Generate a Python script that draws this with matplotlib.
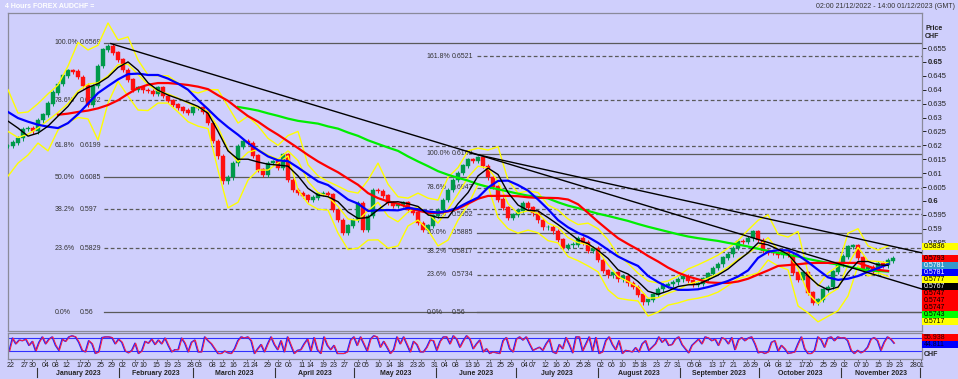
import numpy as np
import pandas as pd
import matplotlib
matplotlib.use("Agg")
import matplotlib.pyplot as plt
import matplotlib.dates as mdates
from matplotlib import transforms
from matplotlib.patches import Rectangle

# --- data --------------------------------------------------------------------
x_start = "2022-12-21 02:00"
x_end = "2023-12-01 14:00"

# candle closes, one every ~45h from 21 Dec 2022 to 20 Nov 2023
close = [
    0.6197, 0.6210, 0.6225, 0.6258, 0.6262, 0.6250, 0.6290, 0.6310, 0.6350, 0.6390,
    0.6420, 0.6450, 0.6468, 0.6465, 0.6445, 0.6415, 0.6345, 0.6413, 0.6485, 0.6543,
    0.6557, 0.6532, 0.6507, 0.6470, 0.6435, 0.6400, 0.6406, 0.6398, 0.6395, 0.6386,
    0.6406, 0.6377, 0.6360, 0.6345, 0.6335, 0.6325, 0.6316, 0.6335, 0.6335, 0.6320,
    0.6280, 0.6215, 0.6160, 0.6070, 0.6085, 0.6135, 0.6195, 0.6215, 0.6208, 0.6162,
    0.6111, 0.6095, 0.6136, 0.6140, 0.6120, 0.6165, 0.6075, 0.6039, 0.6028, 0.6018,
    0.6003, 0.6012, 0.6025, 0.6028, 0.6022, 0.5967, 0.5931, 0.5884, 0.5910, 0.5931,
    0.5990, 0.5895, 0.5945, 0.6039, 0.6035, 0.6018, 0.5993, 0.5982, 0.5986, 0.5993,
    0.5967, 0.5957, 0.5920, 0.5895, 0.5910, 0.5946, 0.5967, 0.6003, 0.6039, 0.6075,
    0.6100, 0.6126, 0.6147, 0.6145, 0.6155, 0.6125, 0.6085, 0.6050, 0.6005, 0.5975,
    0.5940, 0.5950, 0.5965, 0.5990, 0.5975, 0.5955, 0.5930, 0.5905, 0.5905, 0.5890,
    0.5860, 0.5830, 0.5840, 0.5843, 0.5865, 0.5850, 0.5820, 0.5830, 0.5787, 0.5748,
    0.5732, 0.5741, 0.5718, 0.5728, 0.5703, 0.5690, 0.5662, 0.5635, 0.5644, 0.5662,
    0.5682, 0.5695, 0.5700, 0.5707, 0.5718, 0.5728, 0.5712, 0.5698, 0.5702, 0.5720,
    0.5737, 0.5758, 0.5772, 0.5795, 0.5808, 0.5830, 0.5855, 0.5852, 0.5865, 0.5888,
    0.5859, 0.5820, 0.5813, 0.5812, 0.5804, 0.5813, 0.5805, 0.5741, 0.5716, 0.5741,
    0.5669, 0.5633, 0.5644, 0.5680, 0.5690, 0.5745, 0.5772, 0.5800, 0.5835, 0.5838,
    0.5795, 0.5755, 0.5762, 0.5745, 0.5775, 0.5768, 0.5785, 0.5793,
]
close_first = "2022-12-21 02:00"
close_last = "2023-11-20 16:00"

# indicator lines, one point every ~3.8 days
line_first = "2022-12-21 02:00"
line_last = "2023-11-18 18:00"
n_line = 89

ma_red = [
    0.6310, 0.6314, 0.6320, 0.6325, 0.6333, 0.6345, 0.6362, 0.6385, 0.6406, 0.6418,
    0.6424, 0.6424, 0.6421, 0.6417, 0.6411, 0.6402, 0.6380, 0.6360, 0.6332, 0.6305,
    0.6285, 0.6260, 0.6238, 0.6214, 0.6190, 0.6165, 0.6142, 0.6122, 0.6103, 0.6080,
    0.6058, 0.6028, 0.6010, 0.5998, 0.5990, 0.5977, 0.5965, 0.5957, 0.5957, 0.5962,
    0.5972, 0.5990, 0.6008, 0.6018, 0.6018, 0.6018, 0.6017, 0.6013, 0.6011, 0.6011,
    0.6010, 0.6005, 0.5988, 0.5957, 0.5925, 0.5895, 0.5866, 0.5845, 0.5825, 0.5802,
    0.5782, 0.5760, 0.5742, 0.5728, 0.5718, 0.5707, 0.5705, 0.5705, 0.5710, 0.5720,
    0.5735, 0.5750, 0.5766, 0.5769, 0.5772, 0.5776, 0.5777, 0.5777, 0.5777, 0.5777,
    0.5777, 0.5765, 0.5752, 0.5748,
]
ma_blue = [
    0.6320, 0.6298, 0.6285, 0.6274, 0.6267, 0.6262, 0.6280, 0.6312, 0.6350, 0.6388,
    0.6413, 0.6437, 0.6456, 0.6458, 0.6453, 0.6453, 0.6440, 0.6422, 0.6400, 0.6363,
    0.6330, 0.6295, 0.6265, 0.6238, 0.6208, 0.6183, 0.6160, 0.6146, 0.6143, 0.6120,
    0.6095, 0.6070, 0.6057, 0.6032, 0.6005, 0.5990, 0.5964, 0.5966, 0.5967, 0.5966,
    0.5975, 0.5970, 0.5962, 0.5958, 0.5964, 0.5976, 0.5995, 0.6012, 0.6048, 0.6072,
    0.6073, 0.6057, 0.6037, 0.6005, 0.5970, 0.5931, 0.5905, 0.5885, 0.5870, 0.5849,
    0.5824, 0.5800, 0.5782, 0.5766, 0.5730, 0.5708, 0.5690, 0.5680, 0.5680, 0.5682,
    0.5690, 0.5700, 0.5712, 0.5728, 0.5750, 0.5795, 0.5817, 0.5823, 0.5822, 0.5805,
    0.5780, 0.5752, 0.5725, 0.5716, 0.5720, 0.5730, 0.5745, 0.5758, 0.5772,
]
ma_black = [
    0.6287, 0.6262, 0.6233, 0.6244, 0.6269, 0.6305, 0.6340, 0.6388, 0.6408, 0.6422,
    0.6445, 0.6480, 0.6500, 0.6470, 0.6425, 0.6398, 0.6381, 0.6368, 0.6355, 0.6340,
    0.6315, 0.6250, 0.6180, 0.6150, 0.6150, 0.6140, 0.6132, 0.6129, 0.6125, 0.6090,
    0.6045, 0.6021, 0.6015, 0.5997, 0.5960, 0.5937, 0.5940, 0.5968, 0.5995, 0.5997,
    0.5990, 0.5980, 0.5950, 0.5940, 0.5940, 0.5990, 0.6030, 0.6090, 0.6118, 0.6095,
    0.6030, 0.5985, 0.5966, 0.5964, 0.5940, 0.5915, 0.5888, 0.5860, 0.5846, 0.5822,
    0.5793, 0.5752, 0.5737, 0.5710, 0.5675, 0.5664, 0.5676, 0.5692, 0.5698, 0.5700,
    0.5716, 0.5733, 0.5755, 0.5785, 0.5813, 0.5849, 0.5842, 0.5826, 0.5808, 0.5766,
    0.5730, 0.5698, 0.5680, 0.5690, 0.5742, 0.5782, 0.5782, 0.5770, 0.5768,
]
ma_green = [
    0.6338, 0.6332, 0.6325, 0.6315, 0.6306, 0.6296, 0.6288, 0.6283, 0.6278, 0.6268,
    0.6260, 0.6246, 0.6234, 0.6218, 0.6205, 0.6192, 0.6180, 0.6160, 0.6142, 0.6125,
    0.6107, 0.6094, 0.6083, 0.6073, 0.6060, 0.6050, 0.6042, 0.6034, 0.6026, 0.6019,
    0.6014, 0.6009, 0.5995, 0.5983, 0.5974, 0.5964, 0.5954, 0.5946, 0.5937, 0.5928,
    0.5917, 0.5907, 0.5898, 0.5889, 0.5880, 0.5872, 0.5866, 0.5861, 0.5856, 0.5849,
    0.5843, 0.5836, 0.5828, 0.5820, 0.5813, 0.5806, 0.5800, 0.5791, 0.5784, 0.5777,
    0.5771, 0.5764, 0.5756, 0.5750, 0.5748, 0.5746,
]
band_upper = [
    0.6400, 0.6316, 0.6320, 0.6350, 0.6385, 0.6417, 0.6485, 0.6570, 0.6543, 0.6560,
    0.6640, 0.6579, 0.6590, 0.6507, 0.6453, 0.6450, 0.6450, 0.6424, 0.6398, 0.6388,
    0.6400, 0.6400, 0.6340, 0.6280, 0.6305, 0.6270, 0.6225, 0.6200, 0.6235, 0.6250,
    0.6130, 0.6090, 0.6070, 0.6053, 0.6035, 0.6028, 0.6075, 0.6136, 0.6060, 0.6015,
    0.6010, 0.6028, 0.6010, 0.6003, 0.6085, 0.6120, 0.6180, 0.6190, 0.6183, 0.6195,
    0.6075, 0.6028, 0.6036, 0.6030, 0.5985, 0.5967, 0.5935, 0.5915, 0.5920, 0.5900,
    0.5860, 0.5805, 0.5775, 0.5740, 0.5712, 0.5705, 0.5712, 0.5730, 0.5755, 0.5770,
    0.5787, 0.5805, 0.5830, 0.5857, 0.5895, 0.5930, 0.5950, 0.5880, 0.5870, 0.5890,
    0.5741, 0.5694, 0.5741, 0.5766, 0.5884, 0.5900, 0.5838, 0.5823, 0.5838,
]
band_mid = [
    0.6250, 0.6228, 0.6240, 0.6262, 0.6290, 0.6318, 0.6350, 0.6395, 0.6420, 0.6425,
    0.6450, 0.6490, 0.6492, 0.6455, 0.6418, 0.6395, 0.6385, 0.6370, 0.6352, 0.6335,
    0.6322, 0.6265, 0.6185, 0.6140, 0.6175, 0.6185, 0.6165, 0.6150, 0.6180, 0.6145,
    0.6070, 0.6030, 0.6015, 0.5980, 0.5935, 0.5930, 0.5965, 0.5995, 0.5945, 0.5925,
    0.5960, 0.5980, 0.5955, 0.5920, 0.5970, 0.6025, 0.6085, 0.6125, 0.6118, 0.6070,
    0.5990, 0.5955, 0.5965, 0.5955, 0.5920, 0.5905, 0.5868, 0.5850, 0.5843, 0.5822,
    0.5770, 0.5728, 0.5710, 0.5690, 0.5650, 0.5652, 0.5668, 0.5680, 0.5700, 0.5710,
    0.5722, 0.5738, 0.5762, 0.5790, 0.5812, 0.5836, 0.5868, 0.5823, 0.5810, 0.5756,
    0.5668, 0.5630, 0.5663, 0.5685, 0.5770, 0.5833, 0.5784, 0.5782, 0.5777,
]
band_lower = [
    0.6089, 0.6136, 0.6165, 0.6208, 0.6180, 0.6255, 0.6282, 0.6300, 0.6295, 0.6219,
    0.6352, 0.6430, 0.6377, 0.6327, 0.6325, 0.6352, 0.6352, 0.6320, 0.6285, 0.6269,
    0.6260, 0.6111, 0.5975, 0.5995, 0.6075, 0.6111, 0.6111, 0.6136, 0.6162, 0.6040,
    0.5990, 0.5970, 0.5967, 0.5884, 0.5825, 0.5830, 0.5859, 0.5860, 0.5830, 0.5838,
    0.5910, 0.5931, 0.5895, 0.5838, 0.5859, 0.5931, 0.5985, 0.6060, 0.6053, 0.5940,
    0.5900, 0.5884, 0.5895, 0.5885, 0.5857, 0.5849, 0.5800, 0.5785, 0.5766, 0.5745,
    0.5680, 0.5650, 0.5644, 0.5640, 0.5586, 0.5600, 0.5625, 0.5633, 0.5644, 0.5650,
    0.5658, 0.5672, 0.5695, 0.5720, 0.5730, 0.5741, 0.5787, 0.5766, 0.5752, 0.5622,
    0.5597, 0.5565, 0.5585, 0.5605, 0.5658, 0.5766, 0.5730, 0.5741, 0.5728,
]

# oscillator (lower panel)
osc_first = "2022-12-21 11:00"
osc_last = "2023-11-20 23:00"
osc = [
    21, 79, 53, 70, 67, 74, 46, 64, 21, 60, 84, 53, 74, 84, 46, 24, 74, 64, 84, 89,
    84, 60, 24, 17, 67, 53, 10, 17, 81, 84, 84, 81, 53, 74, 60, 21, 13, 24, 56, 10,
    21, 64, 56, 74, 50, 70, 53, 79, 46, 17, 27, 27, 79, 56, 17, 60, 70, 17, 17, 84,
    67, 53, 31, 10, 10, 21, 13, 10, 31, 67, 84, 79, 84, 67, 10, 31, 50, 17, 53, 84,
    50, 27, 67, 17, 84, 46, 10, 24, 27, 53, 74, 21, 81, 27, 10, 84, 46, 27, 46, 10,
    10, 10, 17, 70, 84, 46, 84, 53, 21, 74, 89, 84, 38, 64, 38, 10, 27, 84, 53, 84,
    50, 17, 64, 50, 17, 17, 38, 70, 67, 24, 64, 84, 84, 53, 89, 74, 38, 67, 89, 74,
    31, 53, 70,
    17, 31, 10, 17, 13, 10, 67, 81, 31, 17, 74, 84, 70, 84, 53, 24, 31, 38, 24, 53,
    74, 17, 10, 50, 31, 81, 50, 13, 84, 84, 21, 53, 84, 21, 81, 10, 17, 67, 84, 50,
    27, 67, 10, 24, 21, 17, 36, 17, 53, 67, 24, 38, 53, 84, 60, 74, 46, 50, 74, 84,
    50, 31, 13, 46, 60, 74, 53, 84, 79, 67, 74, 46, 81, 74, 53, 81, 27, 70, 81, 67,
    79, 84, 53, 13, 17, 10, 17, 60, 67, 21, 46, 31, 10, 13, 17, 53, 84, 31, 10, 10,
    24, 84, 70, 38, 79, 84, 67, 84, 79, 81, 67, 24, 10, 24, 13, 21, 38, 74, 81, 67,
    24, 60, 84, 74, 56,
]
osc_levels = [80, 20]

# fibonacci retracements
fib1_start = "2023-01-26 12:00"
fib1_pct = [0.0, 23.6, 38.2, 50.0, 61.8, 78.6, 100.0]
fib1_price = [0.56, 0.5829, 0.597, 0.6085, 0.6199, 0.6362, 0.6569]
fib2_start = "2023-06-16 06:00"
fib2_pct = [0.0, 23.6, 38.2, 50.0, 61.8, 78.6, 100.0, 161.8]
fib2_price = [0.56, 0.5734, 0.5817, 0.5885, 0.5952, 0.6047, 0.6169, 0.6521]

# trend lines (start date, start price, end date, end price)
trend_lines = [
    ("2023-01-28 23:00", 0.6566, "2023-12-01 14:00", 0.5683),
    ("2023-06-13 19:00", 0.6172, "2023-12-01 14:00", 0.5813),
]

# value boxes on the price scale
box_values = [0.5836, 0.5793, 0.5781, 0.5781, 0.5777, 0.5767, 0.5747, 0.5747, 0.5747, 0.5743, 0.5717]
box_colors = ["#FFFF00", "#FF0000", "#3399CC", "#0000FF", "#FFFF00", "#000000",
              "#FF0000", "#FF0000", "#FF0000", "#00FF00", "#FFFF00"]
box_text = ["#000000", "#000000", "#FFFFFF", "#FFFFFF", "#000000", "#FFFFFF",
            "#000000", "#000000", "#000000", "#000000", "#000000"]
osc_boxes = [("55.938", "#FF0000", "#330000"), ("44.811", "#0000FF", "#000033")]

price_ticks = [0.585, 0.59, 0.595, 0.6, 0.605, 0.61, 0.615, 0.62, 0.625, 0.63,
               0.635, 0.64, 0.645, 0.65, 0.655]
bold_ticks = [0.6, 0.65]

tick_days = {
    "2022-12": [22, 27, 30],
    "2023-01": [4, 8, 12, 17, 20, 25, 29],
    "2023-02": [2, 7, 10, 15, 19, 23, 28],
    "2023-03": [3, 8, 12, 16, 21, 24, 29],
    "2023-04": [2, 6, 11, 14, 19, 23, 27],
    "2023-05": [2, 5, 10, 14, 18, 23, 26, 31],
    "2023-06": [4, 8, 13, 16, 21, 25, 29],
    "2023-07": [4, 7, 12, 16, 20, 25, 28],
    "2023-08": [2, 6, 10, 15, 18, 23, 27, 31],
    "2023-09": [5, 8, 13, 17, 21, 26, 29],
    "2023-10": [4, 8, 12, 17, 20, 25, 29],
    "2023-11": [2, 7, 10, 15, 19, 23, 28],
    "2023-12": [1],
}
month_names = ["January 2023", "February 2023", "March 2023", "April 2023", "May 2023",
               "June 2023", "July 2023", "August 2023", "September 2023",
               "October 2023", "November 2023"]

# --- drawing -----------------------------------------------------------------
BG = "#CFCFFC"
W, H = 958, 379
FS = 5.0
plt.rcParams["font.family"] = ["Liberation Sans", "DejaVu Sans"]


def rect(x0, y0, x1, y1):
    return [x0 / W, 1 - y1 / H, (x1 - x0) / W, (y1 - y0) / H]


def dnum(s):
    return mdates.date2num(pd.Timestamp(s).to_pydatetime())


def drange(a, b, n):
    return mdates.date2num(pd.date_range(a, b, periods=n).to_pydatetime())


fig = plt.figure(figsize=(W / 100, H / 100), dpi=100, facecolor=BG)
ax = fig.add_axes(rect(8, 13, 922, 331), facecolor=BG)
ax2 = fig.add_axes(rect(8, 333, 922, 359), facecolor=BG, sharex=ax)

x0, x1 = dnum(x_start), dnum(x_end)
ax.set_xlim(x0, x1)
ax.set_ylim(0.5532, 0.6676)

for a in (ax, ax2):
    for s in a.spines.values():
        s.set_color("#8A8A9A")
        s.set_linewidth(0.9)

# fibonacci levels
for start, pcts, prices in ((fib1_start, fib1_pct, fib1_price), (fib2_start, fib2_pct, fib2_price)):
    xs = dnum(start)
    for pct, p in zip(pcts, prices):
        solid = pct in (0.0, 50.0, 100.0)
        ax.plot([xs, x1], [p, p], color="#5A5A5A", lw=0.9,
                ls="-" if solid else (0, (3, 2)), zorder=1)
        ax.annotate(f"{pct:.1f}%", (xs, p), xytext=(-50, 0), textcoords="offset pixels",
                    fontsize=FS, color="#333333", ha="left", va="center", zorder=2)
        ax.annotate(f"{p:g}", (xs, p), xytext=(-25, 0), textcoords="offset pixels",
                    fontsize=FS, color="#333333", ha="left", va="center", zorder=2)

# candles
ct = drange(close_first, close_last, len(close))
c = np.array(close)
o = np.r_[c[0], c[:-1]]
cols = np.where(c >= o, "#00994A", "#FF1010")
step = ct[1] - ct[0]
ax.vlines(ct, np.minimum(o, c) - 0.0008, np.maximum(o, c) + 0.0008, colors=cols, lw=0.7, zorder=3)
ax.bar(ct, np.abs(c - o) + 0.0002, bottom=np.minimum(o, c), width=step * 0.75,
       color=cols, edgecolor=cols, lw=0.3, zorder=3)

# indicator lines
lt = drange(line_first, line_last, n_line)


def padded(vals):
    return np.r_[np.full(n_line - len(vals), np.nan), vals]


ax.plot(lt, padded(band_upper), color="#FFFF00", lw=1.0, zorder=4)
ax.plot(lt, padded(band_lower), color="#FFFF00", lw=1.0, zorder=4)
ax.plot(lt, padded(band_mid), color="#FFFF00", lw=1.0, zorder=4)
ax.plot(lt, padded(ma_green), color="#00EE00", lw=1.6, zorder=5)
ax.plot(lt, padded(ma_red), color="#FF0000", lw=1.6, zorder=5)
ax.plot(lt, padded(ma_blue), color="#0000FF", lw=1.6, zorder=5)
ax.plot(lt, padded(ma_black), color="#000000", lw=1.0, zorder=6)

for sa, pa, sb, pb in trend_lines:
    ax.plot([dnum(sa), dnum(sb)], [pa, pb], color="black", lw=1.0, zorder=7)

# price scale
ax.yaxis.tick_right()
ax.set_yticks(price_ticks)
ax.set_yticklabels([f"{t:g}" for t in price_ticks])
for lab, t in zip(ax.get_yticklabels(), price_ticks):
    if t in bold_ticks:
        lab.set_fontweight("bold")
ax.tick_params(axis="y", length=3, width=0.7, colors="#222222", labelsize=FS + 0.5, pad=1)
ax.tick_params(axis="x", bottom=False, labelbottom=False)

fig.canvas.draw()
box_h = 7
prev_bottom = -1e9
for v, fc, tc in zip(box_values, box_colors, box_text):
    ydisp = ax.transData.transform((x0, v))[1]
    ytop = H - ydisp - box_h / 2
    ytop = max(ytop, prev_bottom)
    prev_bottom = ytop + box_h
    fig.patches.append(Rectangle((922 / W, 1 - (ytop + box_h) / H), 36 / W, box_h / H,
                                 transform=fig.transFigure, facecolor=fc, edgecolor="none"))
    fig.text(924 / W, 1 - (ytop + box_h / 2) / H, f"{v:.4f}", color=tc, fontsize=FS,
             va="center", ha="left")

# oscillator panel
ot = drange(osc_first, osc_last, len(osc))
ax2.set_ylim(-14.6, 101.5)
for lv in osc_levels:
    ax2.axhline(lv, color="#3030FF", lw=0.8, zorder=1)
ax2.plot(ot, osc, color="#2020FF", lw=1.0, zorder=2)
ax2.plot(ot + 0.3, osc, color="#FF2040", lw=0.7, zorder=3)
ax2.set_yticks([])

ytop = 334
for txt, fc, tc in osc_boxes:
    fig.patches.append(Rectangle((922 / W, 1 - (ytop + 7) / H), 36 / W, 7 / H,
                                 transform=fig.transFigure, facecolor=fc, edgecolor="none"))
    fig.text(924 / W, 1 - (ytop + 3.5) / H, txt, color=tc, fontsize=FS, va="center", ha="left")
    ytop += 7
fig.text(924 / W, 1 - 354 / H, "CHF", color="#222222", fontsize=FS, fontweight="bold", va="center")

# date axis
tick_pos, tick_lab = [], []
for ym, days in tick_days.items():
    for d in days:
        tick_pos.append(dnum(f"{ym}-{d:02d} 06:00"))
        tick_lab.append(f"{d:02d}")
ax2.set_xticks(tick_pos)
ax2.set_xticklabels(tick_lab)
ax2.tick_params(axis="x", length=1.5, width=0.5, colors="#222222", labelsize=FS, pad=0.5)

trans = transforms.blended_transform_factory(ax2.transData, fig.transFigure)
month_starts = pd.date_range("2023-01-01", "2023-12-01", freq="MS")
for ms in month_starts:
    xm = dnum(ms)
    ax2.plot([xm, xm], [1 - 377 / H, 1 - 368 / H], transform=trans, color="#333333",
             lw=0.8, clip_on=False)
for name, a, b in zip(month_names, month_starts[:-1], month_starts[1:]):
    xm = (dnum(a) + dnum(b)) / 2
    ax2.text(xm, 1 - 373.5 / H, name, transform=trans, ha="center", va="center",
             fontsize=FS, fontweight="bold", color="#222222")

# header texts
fig.text(5 / W, 1 - 6 / H, "4 Hours FOREX AUDCHF =", color="white", fontsize=FS,
         fontweight="bold", va="center")
fig.text(955 / W, 1 - 6 / H, "02:00 21/12/2022 - 14:00 01/12/2023 (GMT)", color="#333333",
         fontsize=FS, ha="right", va="center")
fig.text(925 / W, 1 - 28 / H, "Price", color="#222222", fontsize=FS, fontweight="bold", va="center")
fig.text(925 / W, 1 - 36 / H, "CHF", color="#222222", fontsize=FS, fontweight="bold", va="center")

fig.savefig("out.png", dpi=100, facecolor=BG)
